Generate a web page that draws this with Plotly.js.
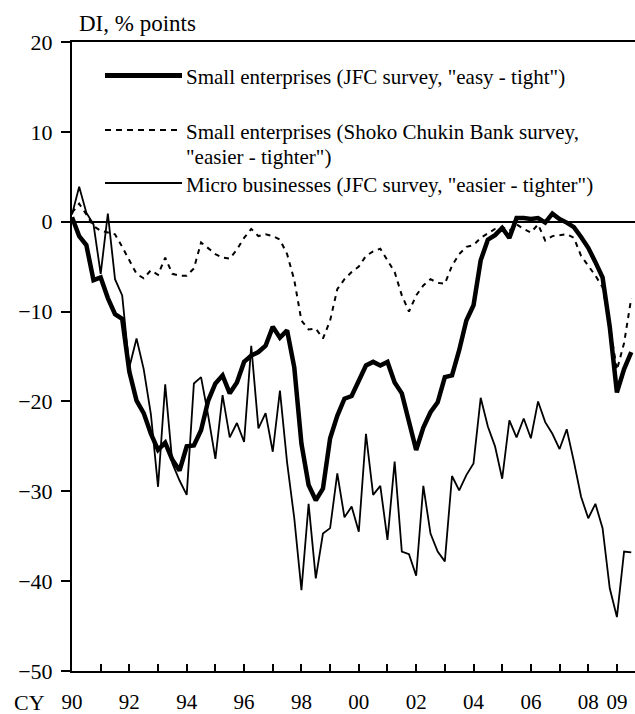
<!DOCTYPE html>
<html>
<head>
<meta charset="utf-8">
<script src="https://cdn.plot.ly/plotly-3.0.1.min.js"></script>
<style>
html,body{margin:0;padding:0;background:#fff;}
#chart{width:635px;height:714px;}
</style>
</head>
<body>
<div id="chart"></div>
<script>
// Quarterly periods, 1990 Q1 to 2009 Q3
const startYear = 1990;
const nQuarters = 79;

// Small enterprises (JFC survey, "easy - tight")
const smallJFC = [
  0.5, -1.6, -2.6, -6.5,
  -6.2, -8.5, -10.3, -10.8,
  -16.7, -19.9, -21.3, -23.6,
  -25.4, -24.6, -26.5, -27.7,
  -25.0, -24.9, -23.2, -19.9,
  -18.0, -17.1, -19.1, -17.9,
  -15.6, -14.9, -14.5, -13.8,
  -11.7, -12.9, -12.1, -16.2,
  -24.7, -29.3, -31.0, -29.7,
  -24.1, -21.6, -19.7, -19.4,
  -17.7, -16.0, -15.6, -16.0,
  -15.6, -17.9, -19.1, -22.1,
  -25.4, -22.9, -21.2, -20.1,
  -17.3, -17.1, -14.3, -11.0,
  -9.3, -4.3, -2.0, -1.5,
  -0.7, -1.8, 0.4, 0.4,
  0.3, 0.4, -0.1, 0.9,
  0.3, -0.1, -0.6, -1.7,
  -2.9, -4.5, -6.2, -11.7,
  -19.0, -16.4, -14.5
];

// Small enterprises (Shoko Chukin Bank survey, "easier - tighter")
const smallShoko = [
  1.0, 2.0, 0.8, -0.5,
  -1.0, -1.2, -1.4, -2.8,
  -4.3, -5.8, -6.3, -5.4,
  -5.9, -4.0, -5.8, -6.0,
  -6.0, -5.2, -2.3, -2.9,
  -3.6, -4.0, -4.1, -3.1,
  -1.8, -0.8, -1.6, -1.4,
  -1.6, -2.0, -3.6, -6.5,
  -11.0, -12.0, -11.9, -13.0,
  -11.0, -7.5, -6.4, -5.6,
  -5.0, -3.8, -3.3, -3.0,
  -4.3, -5.6, -8.2, -10.0,
  -8.2, -7.1, -6.4, -6.8,
  -6.9, -4.9, -3.6, -2.8,
  -2.6, -1.8, -1.3, -0.8,
  -0.6, -1.0, -0.3, -0.8,
  -1.2, -0.3, -2.1, -1.6,
  -1.5, -1.4, -1.8, -3.8,
  -4.9, -6.0, -7.3, -11.5,
  -16.5, -13.5, -8.5
];

// Micro businesses (JFC survey, "easier - tighter")
const microJFC = [
  0.8, 3.9, 1.0, -0.3,
  -5.8, 0.9, -6.4, -8.2,
  -16.2, -13.0, -16.4, -21.4,
  -29.5, -18.1, -26.9, -28.8,
  -30.4, -18.0, -17.3, -21.6,
  -26.4, -19.3, -24.0, -22.4,
  -24.5, -13.8, -23.0, -21.3,
  -25.6, -18.8, -26.8, -33.0,
  -41.0, -31.4, -39.7, -34.7,
  -34.1, -28.0, -32.9, -31.7,
  -34.5, -23.6, -30.4, -29.4,
  -35.4, -26.7, -36.7, -37.0,
  -39.4, -29.4, -34.7, -36.7,
  -37.8, -28.3, -29.9, -28.2,
  -26.9, -19.6, -22.8, -25.0,
  -28.6, -22.1, -24.0, -21.9,
  -24.1, -20.0, -22.3, -23.6,
  -25.3, -23.1, -26.7, -30.6,
  -33.0, -31.4, -34.1, -40.8,
  -44.0, -36.7, -36.8
];

const tickYears = [1990,1991,1992,1993,1994,1995,1996,1997,1998,1999,2000,2001,2002,2003,2004,2005,2006,2007,2008,2009];
const tickLabels = ['90','','92','','94','','96','','98','','00','','02','','04','','06','','08','09'];

const legendLabels = [
  'Small enterprises (JFC survey, "easy - tight")',
  'Small enterprises (Shoko Chukin Bank survey,',
  '"easier - tighter")',
  'Micro businesses (JFC survey, "easier - tighter")'
];

// x positions: decimal years for each quarter
const periods = [];
for (let i = 0; i < nQuarters; i++) periods.push(startYear + i / 4);

const FONT = 'Liberation Serif, Times New Roman, Times, serif';
const W = 635, H = 714;
const M = {l: 72, r: 0, t: 42, b: 43};
const PW = W - M.l - M.r, PH = H - M.t - M.b;
const px = x => (x - M.l) / PW;
const py = y => (H - M.b - y) / PH;

const traces = [
  {x: periods, y: microJFC, type: 'scatter', mode: 'lines',
   line: {color: '#000', width: 1.8}, name: legendLabels[3], showlegend: false, hoverinfo: 'skip'},
  {x: periods, y: smallShoko, type: 'scatter', mode: 'lines',
   line: {color: '#000', width: 2, dash: '5px,5px'}, name: legendLabels[1], showlegend: false, hoverinfo: 'skip'},
  {x: periods, y: smallJFC, type: 'scatter', mode: 'lines',
   line: {color: '#000', width: 4.5}, name: legendLabels[0], showlegend: false, hoverinfo: 'skip'}
];

const shapes = [
  {type: 'line', xref: 'paper', yref: 'paper', x0: px(105), x1: px(182), y0: py(75.5), y1: py(75.5), line: {color: '#000', width: 5}},
  {type: 'line', xref: 'paper', yref: 'paper', x0: px(105), x1: px(182), y0: py(130), y1: py(130), line: {color: '#000', width: 2, dash: '6px,5px'}},
  {type: 'line', xref: 'paper', yref: 'paper', x0: px(105), x1: px(182), y0: py(183), y1: py(183), line: {color: '#000', width: 1.8}}
];

const legendFont = {family: FONT, size: 21, color: '#000'};
const annotations = [
  {text: 'DI, % points', xref: 'paper', yref: 'paper', x: px(77), y: py(24), xanchor: 'left', yanchor: 'middle', showarrow: false, font: {family: FONT, size: 23, color: '#000'}},
  {text: 'CY', xref: 'paper', yref: 'paper', x: px(29), y: py(702), xanchor: 'center', yanchor: 'middle', showarrow: false, font: {family: FONT, size: 22, color: '#000'}},
  {text: legendLabels[0], xref: 'paper', yref: 'paper', x: px(184), y: py(77), xanchor: 'left', yanchor: 'middle', showarrow: false, font: legendFont},
  {text: legendLabels[1], xref: 'paper', yref: 'paper', x: px(184), y: py(132), xanchor: 'left', yanchor: 'middle', showarrow: false, font: legendFont},
  {text: legendLabels[2], xref: 'paper', yref: 'paper', x: px(184), y: py(157), xanchor: 'left', yanchor: 'middle', showarrow: false, font: legendFont},
  {text: legendLabels[3], xref: 'paper', yref: 'paper', x: px(184), y: py(185), xanchor: 'left', yanchor: 'middle', showarrow: false, font: legendFont}
];

const layout = {
  width: W, height: H,
  margin: M,
  paper_bgcolor: '#fff', plot_bgcolor: '#fff',
  showlegend: false,
  font: {family: FONT, size: 22, color: '#000'},
  xaxis: {
    range: [1990, 1990 + PW / 28.68],
    tickmode: 'array', tickvals: tickYears, ticktext: tickLabels,
    ticks: 'inside', ticklen: 7, tickwidth: 2, tickcolor: '#000',
    showline: true, linecolor: '#000', linewidth: 2, mirror: true,
    showgrid: false, zeroline: false,
    tickfont: {family: FONT, size: 21, color: '#000'},
    ticklabelstandoff: 11
  },
  yaxis: {
    range: [-50, 20], dtick: 10, tick0: 0,
    ticks: 'outside', ticklen: 9, tickwidth: 2, tickcolor: '#000',
    showline: true, linecolor: '#000', linewidth: 2,
    showgrid: false, zeroline: true, zerolinecolor: '#000', zerolinewidth: 2,
    tickfont: {family: FONT, size: 22, color: '#000'},
    ticklabelstandoff: 4
  },
  shapes: shapes,
  annotations: annotations
};

Plotly.newPlot('chart', traces, layout, {staticPlot: true, displayModeBar: false});
</script>
</body>
</html>
